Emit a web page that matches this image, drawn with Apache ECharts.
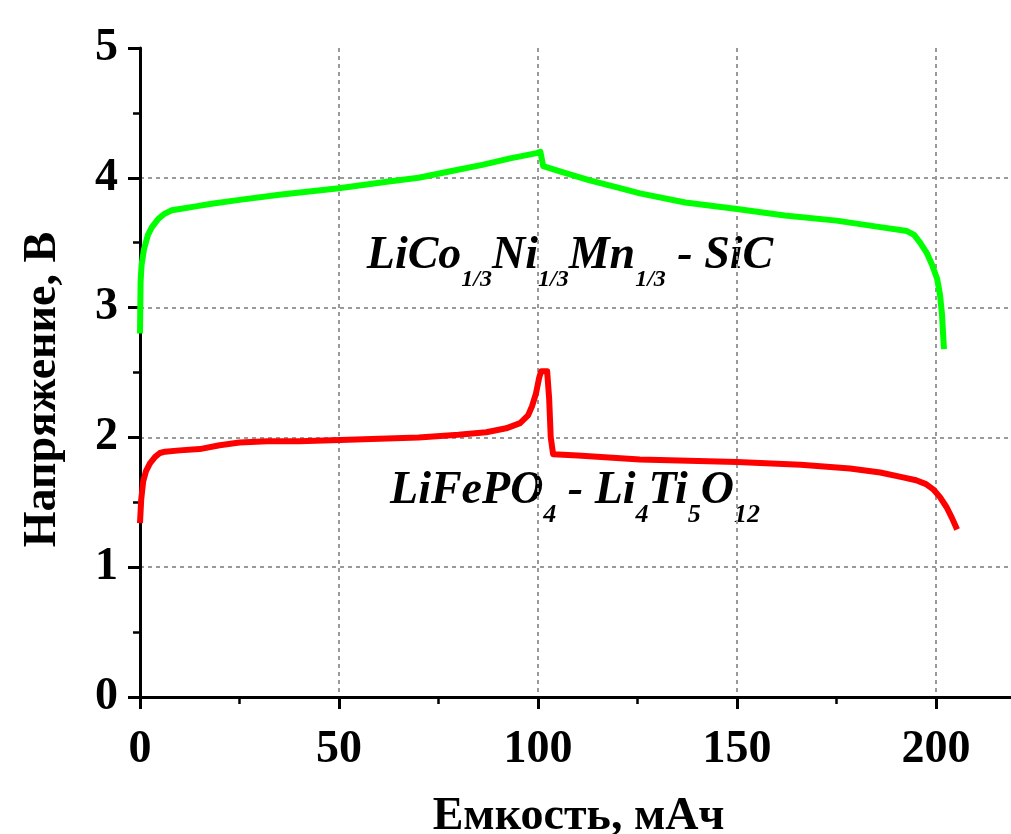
<!DOCTYPE html>
<html>
<head>
<meta charset="utf-8">
<script src="https://cdn.jsdelivr.net/npm/echarts@6/dist/echarts.min.js"></script>
<style>
  html, body { margin: 0; padding: 0; background: #fff; }
  #chart { width: 1011px; height: 834px; }
</style>
</head>
<body>
<div id="chart"></div>
<script>
// LiCo1/3Ni1/3Mn1/3 - SiC (charge then discharge)
var greenCap = [0, 0.15, 0.4, 1, 2, 3, 4.5, 6, 8, 10, 14, 18, 25, 35, 50, 62, 70, 78, 86, 93, 99.7, 100.6, 101.3,
  105.5, 113, 120.6, 125.6, 137, 150, 162, 175, 186, 192.7, 194.5, 196, 197.7, 199, 200.3, 201, 201.5, 202]
var greenVolt = [2.8, 3.2, 3.33, 3.45, 3.56, 3.62, 3.68, 3.72, 3.75, 3.76, 3.78, 3.8, 3.83, 3.87, 3.92, 3.97, 4.0, 4.05, 4.1, 4.15, 4.19, 4.2, 4.09,
  4.05, 3.98, 3.92, 3.88, 3.81, 3.76, 3.71, 3.67, 3.62, 3.59, 3.56, 3.5, 3.42, 3.33, 3.22, 3.1, 2.95, 2.68]

// LiFePO4 - Li4Ti5O12
var redCap = [0, 0.3, 0.8, 1.5, 2.5, 3.8, 5, 6.3, 10, 15, 20, 25, 32, 40, 50.3, 70, 80, 87, 92, 95.5, 97.5, 98.5, 99.5, 100.3, 100.8, 102.3,
  102.8, 103.2, 103.8, 110, 125.6, 150, 166, 178.4, 186, 192, 195, 197.5, 199.3, 201, 202.7, 204, 205.3]
var redVolt = [1.34, 1.52, 1.66, 1.74, 1.8, 1.85, 1.88, 1.89, 1.9, 1.91, 1.94, 1.96, 1.97, 1.97, 1.98, 2.0, 2.02, 2.04, 2.07, 2.11, 2.17, 2.24, 2.34, 2.46, 2.51, 2.51,
  2.3, 2.0, 1.87, 1.86, 1.83, 1.81, 1.79, 1.76, 1.73, 1.69, 1.67, 1.64, 1.6, 1.54, 1.46, 1.38, 1.29]

var xTicks = [0, 50, 100, 150, 200]

function pairs (xs, ys) {
  return xs.map(function (x, i) { return [x, ys[i]] })
}

var serif = 'Liberation Serif'
var gridLine = { show: true, showMinLine: false, showMaxLine: false, lineStyle: { color: '#999', width: 2, type: [4, 4] } }

var chart = echarts.init(document.getElementById('chart'))
var option = {
  animation: false,
  grid: { left: 140, top: 48, width: 995, height: 649, outerBoundsMode: 'none', containLabel: false },
  xAxis: {
    type: 'value',
    min: 0,
    max: 250,
    interval: 50,
    name: 'Емкость, мАч',
    nameLocation: 'middle',
    nameGap: 97,
    nameTextStyle: { fontFamily: serif, fontWeight: 'bold', fontSize: 46, color: '#000', padding: [0, 118, 0, 0] },
    axisLine: { show: true, lineStyle: { color: '#000', width: 3 } },
    axisTick: { show: true, length: 12, lineStyle: { color: '#000', width: 3 } },
    minorTick: { show: true, splitNumber: 2, length: 7, lineStyle: { color: '#000', width: 2.5 } },
    axisLabel: {
      margin: 30, fontFamily: serif, fontWeight: 'bold', fontSize: 46, color: '#000',
      formatter: function (v) { return xTicks.indexOf(v) >= 0 ? String(v) : '' }
    },
    splitLine: gridLine
  },
  yAxis: {
    type: 'value',
    min: 0,
    max: 5,
    interval: 1,
    name: 'Напряжение, В',
    nameLocation: 'middle',
    nameGap: 74,
    nameTextStyle: { fontFamily: serif, fontWeight: 'bold', fontSize: 46, color: '#000', padding: [0, 34, 0, 0] },
    axisLine: { show: true, lineStyle: { color: '#000', width: 3 } },
    axisTick: { show: true, length: 12, lineStyle: { color: '#000', width: 3 } },
    minorTick: { show: true, splitNumber: 2, length: 7, lineStyle: { color: '#000', width: 2.5 } },
    axisLabel: { margin: 22, fontFamily: serif, fontWeight: 'bold', fontSize: 46, color: '#000' },
    splitLine: gridLine
  },
  series: [
    {
      type: 'line',
      data: pairs(greenCap, greenVolt),
      showSymbol: false,
      lineStyle: { color: '#00ff00', width: 6, join: 'round' }
    },
    {
      type: 'line',
      data: pairs(redCap, redVolt),
      showSymbol: false,
      lineStyle: { color: '#ff0000', width: 6, join: 'round' }
    }
  ],
  graphic: [
    {
      type: 'text',
      x: 570,
      y: 256,
      style: {
        text: '{m|LiCo}{s|1/3}{m|Ni}{s|1/3}{m|Mn}{s|1/3}{m| - SiC}',
        align: 'center',
        verticalAlign: 'middle',
        rich: {
          m: { fontFamily: serif, fontWeight: 'bold', fontStyle: 'italic', fontSize: 46, color: '#000' },
          s: { fontFamily: serif, fontWeight: 'bold', fontStyle: 'italic', fontSize: 24, color: '#000', padding: [48, 0, 0, 0] }
        }
      }
    },
    {
      type: 'text',
      x: 575,
      y: 491,
      style: {
        text: '{m|LiFePO}{s|4}{m| - Li}{s|4}{m|Ti}{s|5}{m|O}{s|12}',
        align: 'center',
        verticalAlign: 'middle',
        rich: {
          m: { fontFamily: serif, fontWeight: 'bold', fontStyle: 'italic', fontSize: 46, color: '#000' },
          s: { fontFamily: serif, fontWeight: 'bold', fontStyle: 'italic', fontSize: 26, color: '#000', padding: [48, 0, 0, 0] }
        }
      }
    }
  ]
}
chart.setOption(option)
</script>
</body>
</html>
